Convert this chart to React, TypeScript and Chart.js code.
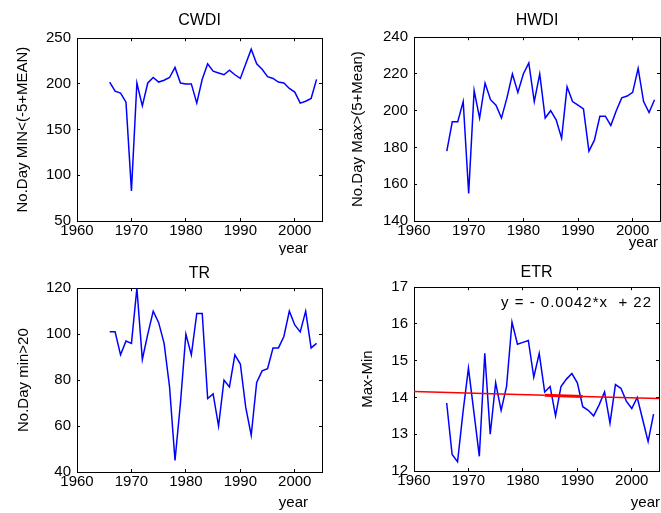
import React, { useEffect, useRef } from 'react';
import { Chart, registerables } from 'chart.js';

Chart.register(...registerables);

// ---- data ----
const years = [
  1966, 1967, 1968, 1969, 1970, 1971, 1972, 1973, 1974, 1975,
  1976, 1977, 1978, 1979, 1980, 1981, 1982, 1983, 1984, 1985,
  1986, 1987, 1988, 1989, 1990, 1991, 1992, 1993, 1994, 1995,
  1996, 1997, 1998, 1999, 2000, 2001, 2002, 2003, 2004,
];
const cwdi = [
  202, 192, 190, 180, 83, 201, 176, 201, 207, 202,
  204, 207, 218, 201, 200, 200, 179, 205, 222, 214,
  212, 210, 215, 210, 206, 222, 238, 222, 216, 208,
  206, 202, 201, 195, 191, 179, 181, 184, 205,
];
const hwdi = [
  178, 194, 194, 205, 155, 211, 196, 215, 206, 203,
  196, 207, 220, 210, 220, 226, 205, 220, 196, 200,
  195, 185, 213, 205, 203, 201, 178, 184, 197, 197,
  192, 200, 207, 208, 210, 223, 205, 199, 206,
];
const tr = [
  101, 101, 91, 97, 96, 120, 89, 100, 110, 105,
  96, 77, 45, 70, 100, 91, 109, 109, 72, 74,
  60, 80, 77, 91, 87, 68, 56, 79, 84, 85,
  94, 94, 99, 110, 104, 101, 110, 94, 96,
];
const etr = [
  13.85, 12.45, 12.25, 13.6, 14.8, 13.6, 12.4, 15.2, 13.0, 14.4,
  13.65, 14.3, 16.05, 15.45, 15.5, 15.55, 14.55, 15.2, 14.15, 14.3,
  13.5, 14.3, 14.5, 14.65, 14.4, 13.75, 13.65, 13.5, 13.8, 14.15,
  13.3, 14.35, 14.25, 13.9, 13.7, 14.0, 13.4, 12.8, 13.55,
];
const trendYears = [1960, 1984, 1991, 2005];
const trendValues = [14.16, 14.06, 14.03, 13.97];
const xTicks = [1960, 1970, 1980, 1990, 2000];
const cwdiTicks = [50, 100, 150, 200, 250];
const hwdiTicks = [140, 160, 180, 200, 220, 240];
const trTicks = [40, 60, 80, 100, 120];
const etrTicks = [12, 13, 14, 15, 16, 17];
const equationText = 'y = - 0.0042*x  + 22';

const FONT = "'Liberation Sans', Arial, Helvetica, sans-serif";
const BLUE = '#0000ff';
const RED = '#ff0000';
const FRAME = '#000000';
const TICK_LEN = -3; // negative = ticks pointing into the plot (MATLAB style)

const labelPlugin = {
  id: 'panelLabels',
  afterDraw(chart: any, _args: any, opts: any) {
    const { ctx, chartArea: a } = chart;
    ctx.save();
    ctx.fillStyle = '#000';
    ctx.font = `15px ${FONT}`;
    ctx.textBaseline = 'middle';
    ctx.textAlign = 'right';
    if (opts.xLabel) ctx.fillText(opts.xLabel, a.right + opts.xLabelDx, a.bottom + opts.xLabelDy);
    if (opts.note) {
      try { (ctx as any).letterSpacing = '1px'; } catch (e) { /* ignore */ }
      ctx.fillText(opts.note, a.right + opts.noteDx, a.top + opts.noteDy);
    }
    ctx.restore();
  },
};
Chart.register(labelPlugin);

function makeConfig(p: any) {
  const tickFont = { family: FONT, size: 15 };
  const borderOpt = { display: true, color: FRAME, width: 1 };
  const gridOpt = {
    display: true, drawOnChartArea: false, drawTicks: true,
    tickLength: TICK_LEN, color: FRAME, lineWidth: 1,
  };
  const setX = (s: any) => { s.ticks = xTicks.map((v) => ({ value: v })); };
  const setY = (s: any) => { s.ticks = p.yTicks.map((v: number) => ({ value: v })); };
  const yMin = p.yTicks[0];
  const yMax = p.yTicks[p.yTicks.length - 1];
  return {
    type: 'line',
    data: { datasets: p.datasets },
    options: {
      animation: false,
      responsive: false,
      events: [],
      layout: { padding: { left: 0, right: p.padRight, top: 0, bottom: 0 } },
      elements: { point: { radius: 0 }, line: { tension: 0 } },
      plugins: {
        legend: { display: false },
        tooltip: { enabled: false },
        title: {
          display: true,
          text: p.title,
          fullSize: false,
          color: '#000',
          font: { family: FONT, size: 16, weight: 'normal' },
          padding: { top: p.titleTop, bottom: p.titleBottom },
        },
        panelLabels: {
          xLabel: 'year',
          xLabelDx: p.yearDx,
          xLabelDy: p.yearDy,
          note: p.note,
          noteDx: p.noteDx,
          noteDy: p.noteDy,
        },
      },
      scales: {
        x: {
          type: 'linear',
          position: 'bottom',
          min: 1960,
          max: 2005,
          afterBuildTicks: setX,
          afterFit: (s: any) => { s.height = p.bottomH; },
          grid: gridOpt,
          border: borderOpt,
          ticks: {
            color: '#000', font: tickFont, padding: p.xPad - TICK_LEN, autoSkip: false,
            maxRotation: 0, callback: (v: any) => String(v),
          },
        },
        xTop: {
          type: 'linear',
          position: 'top',
          min: 1960,
          max: 2005,
          afterBuildTicks: setX,
          afterFit: (s: any) => { s.height = 0; },
          grid: gridOpt,
          border: borderOpt,
          ticks: { display: false },
        },
        y: {
          type: 'linear',
          position: 'left',
          min: yMin,
          max: yMax,
          afterBuildTicks: setY,
          afterFit: (s: any) => { s.width = p.leftW; },
          grid: gridOpt,
          border: borderOpt,
          title: {
            display: true, text: p.yTitle, color: '#000', font: tickFont,
            padding: { top: p.yTitlePad, bottom: 0 },
          },
          ticks: { color: '#000', font: tickFont, padding: 6 - TICK_LEN, callback: (v: any) => String(v) },
        },
        yRight: {
          type: 'linear',
          position: 'right',
          min: yMin,
          max: yMax,
          afterBuildTicks: setY,
          afterFit: (s: any) => { s.width = 0; },
          grid: gridOpt,
          border: borderOpt,
          ticks: { display: false },
        },
      },
    },
  };
}

function blueSeries(values: number[]) {
  return {
    data: years.map((y, i) => ({ x: y, y: values[i] })),
    borderColor: BLUE, borderWidth: 1.5, fill: false,
  };
}

function Panel({ cfg, left, top, width, height }: any) {
  const ref = useRef<HTMLCanvasElement>(null);
  useEffect(() => {
    const chart = new Chart(ref.current as HTMLCanvasElement, cfg);
    return () => chart.destroy();
  }, []);
  return (
    <canvas
      ref={ref}
      width={width}
      height={height}
      style={{ position: 'absolute', left, top, width, height, display: 'block' }}
    />
  );
}

export default function App() {
  const cwdiCfg = makeConfig({
    datasets: [blueSeries(cwdi)], title: 'CWDI', titleTop: 11, titleBottom: 8,
    padRight: 8, bottomH: 34, leftW: 77, xPad: 1, yTicks: cwdiTicks,
    yTitle: 'No.Day MIN<(-5+MEAN)', yTitlePad: 14, yearDx: -14, yearDy: 28,
  });
  const hwdiCfg = makeConfig({
    datasets: [blueSeries(hwdi)], title: 'HWDI', titleTop: 11, titleBottom: 7,
    padRight: 1, bottomH: 34, leftW: 84, xPad: 1, yTicks: hwdiTicks,
    yTitle: 'No.Day Max>(5+Mean)', yTitlePad: 19, yearDx: -2, yearDy: 22,
  });
  const trCfg = makeConfig({
    datasets: [blueSeries(tr)], title: 'TR', titleTop: 9, titleBottom: 5,
    padRight: 8, bottomH: 41, leftW: 77, xPad: 1, yTicks: trTicks,
    yTitle: 'No.Day min>20', yTitlePad: 15, yearDx: -14, yearDy: 31,
  });
  const etrCfg = makeConfig({
    datasets: [
      {
        data: trendYears.map((y, i) => ({ x: y, y: trendValues[i] })),
        borderColor: RED, borderWidth: 1.5, fill: false,
        segment: { borderWidth: (c: any) => (c.p0DataIndex === 1 ? 3 : 1.5) },
      },
      blueSeries(etr),
    ],
    title: 'ETR', titleTop: 8, titleBottom: 5,
    padRight: 2, bottomH: 42, leftW: 84, xPad: 1, yTicks: etrTicks,
    yTitle: 'Max-Min', yTitlePad: 29, yearDx: 1, yearDy: 32,
    note: equationText, noteDx: -7, noteDy: 16,
  });
  return (
    <div style={{ position: 'absolute', left: 0, top: 0, width: 661, height: 513, background: '#fff' }}>
      <Panel cfg={cwdiCfg} left={0} top={0} width={330} height={255} />
      <Panel cfg={hwdiCfg} left={330} top={0} width={331} height={255} />
      <Panel cfg={trCfg} left={0} top={255} width={330} height={258} />
      <Panel cfg={etrCfg} left={330} top={255} width={331} height={258} />
    </div>
  );
}
